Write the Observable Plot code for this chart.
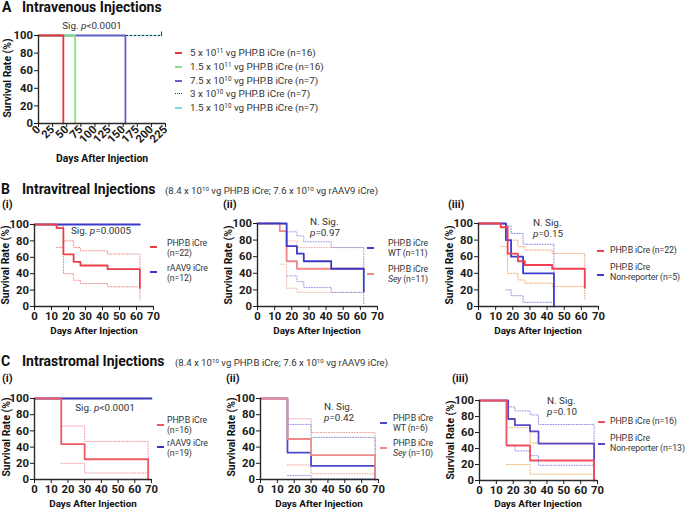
<!DOCTYPE html>
<html><head><meta charset="utf-8">
<script src="https://cdn.jsdelivr.net/npm/d3@7"></script>
<script src="https://cdn.jsdelivr.net/npm/@observablehq/plot@0.6"></script>
<style>
body{margin:0;background:#fff;}
#fig{position:relative;width:685px;height:512px;overflow:hidden;font-family:Roboto,'DejaVu Sans',sans-serif;color:#333;background:#fff;}
#fig svg{overflow:visible;max-width:none;}
.t{position:absolute;white-space:nowrap;line-height:1.08;}
.ttl{font-weight:bold;font-size:14px;color:#111;}
.sub{font-size:9.6px;color:#333;}
.pl{font-weight:bold;font-size:11px;color:#111;}
.axt{font-weight:bold;font-size:10.4px;color:#111;}
.axb{font-weight:bold;font-size:9.9px;color:#111;}
.ann{font-size:9.9px;color:#333;}
.leg{font-size:9.8px;color:#333;}
.legs{font-size:8.8px;letter-spacing:-0.15px;color:#333;}
sup{font-size:65%;vertical-align:0;position:relative;top:-0.45em;line-height:0;}
.sw{position:absolute;width:7px;height:0;}
</style>
</head><body>
<div id="fig"></div>
<script>
// ================= DATA =================
const yTicks = [0, 20, 40, 60, 80, 100];
const kmTicksX = [0, 10, 20, 30, 40, 50, 60, 70];
const aTicksX = [0, 25, 50, 75, 100, 125, 150, 175, 200, 225];

// Panel A – intravenous
const aDays5e11 = [0, 44],   aSurv5e11 = [100, 0];
const aDays15e11 = [0, 65],  aSurv15e11 = [100, 0];
const aDays75e10 = [0, 154], aSurv75e10 = [100, 0];
const aDays3e10 = [0, 218],  aSurv3e10 = [100, 100];
const aDays15e10 = [0, 218], aSurv15e10 = [100, 100];
const aCensorDays = [218];
const aLegend = ["5 x 10<sup>11</sup> vg PHP.B iCre (n=16)", "1.5 x 10<sup>11</sup> vg PHP.B iCre (n=16)",
  "7.5 x 10<sup>10</sup> vg PHP.B iCre (n=7)", "3 x 10<sup>10</sup> vg PHP.B iCre (n=7)", "1.5 x 10<sup>10</sup> vg PHP.B iCre (n=7)"];

// Panel B – intravitreal, PHP.B iCre (n=22) (used in B-i and B-iii)
const bPhpDays = [0, 13, 17, 23, 27, 43, 62];
const bPhpSurv = [100, 95.5, 63.6, 54.5, 50, 45.5, 22.7];
const bPhpCiDays = [13, 17, 23, 27, 43, 62];
const bPhpUpper = [99.3, 80, 72, 68, 64, 41];
const bPhpLower = [72, 40, 32, 28, 24, 8];
// B-i rAAV9 iCre (n=12)
const bAavDays = [0, 62], bAavSurv = [100, 100];
// B-ii WT (n=11)
const bWtDays = [0, 17, 23, 27, 43, 62];
const bWtSurv = [100, 72.7, 63.6, 54.5, 45.5, 18.2];
const bWtCiDays = [17, 23, 27, 43, 62];
const bWtUpper = [90, 85, 78, 71, 44];
const bWtLower = [37, 30, 23, 17, 2];
// B-ii Sey (n=11)
const bSeyDays = [0, 13, 17, 23, 62];
const bSeySurv = [100, 90.9, 54.5, 45.5, 45.5];
const bSeyCiDays = [13, 17, 23, 62];
const bSeyUpper = [99, 79, 71, 71];
const bSeyLower = [51, 22, 17, 17];
// B-iii Non-reporter (n=5)
const bNrDays = [0, 16, 19, 26, 44];
const bNrSurv = [100, 80, 60, 40, 0];
const bNrCiDays = [16, 19, 26, 44];
const bNrUpper = [97, 88, 75, 40];
const bNrLower = [20, 13, 5, 0];

// Panel C – intrastromal, PHP.B iCre (n=16) (used in C-i and C-iii)
const cPhpDays = [0, 16, 30, 68];
const cPhpSurv = [100, 43.75, 25, 0];
const cPhpCiDays = [16, 30, 68];
const cPhpUpper = [66, 47, 0];
const cPhpLower = [20, 8, 0];
// C-i rAAV9 (n=19)
const cAavDays = [0, 70], cAavSurv = [100, 100];
// C-ii WT (n=6)
const cWtDays = [0, 16, 30, 68];
const cWtSurv = [100, 33.3, 16.7, 0];
const cWtCiDays = [16, 30, 68];
const cWtUpper = [68, 52, 0];
const cWtLower = [5, 1, 0];
// C-ii Sey (n=10)
const cSeyDays = [0, 16, 30, 68];
const cSeySurv = [100, 50, 30, 0];
const cSeyCiDays = [16, 30, 68];
const cSeyUpper = [75, 58, 0];
const cSeyLower = [18, 7, 0];
// C-iii Non-reporter (n=13)
const cNrDays = [0, 17, 21, 30, 35, 68];
const cNrSurv = [100, 76.9, 69.2, 61.5, 46.2, 0];
const cNrCiDays = [17, 21, 30, 35, 68];
const cNrUpper = [92, 87, 82, 70, 0];
const cNrLower = [44, 37, 31, 19, 0];

// ================= HELPERS =================
const fig = document.getElementById("fig");
const FONT = "Roboto, 'DejaVu Sans', sans-serif";
const pts = (t, s) => t.map((d, i) => ({t: d, s: s[i]}));
const DOT = "1,1.6";

function km(o) {
  const marks = [];
  for (const s of o.series) {
    marks.push(Plot.line(pts(s.t, s.s), {
      x: "t", y: "s", curve: "step-after", stroke: s.c,
      strokeWidth: s.w ?? 1.8, strokeDasharray: s.dash
    }));
  }
  marks.push(
    Plot.ruleX([0], {stroke: "#2a2a2a", strokeWidth: 1.4}),
    Plot.ruleY([0], {stroke: "#2a2a2a", strokeWidth: 1.4}),
    Plot.axisY({ticks: yTicks, tickSize: 4, tickPadding: 1.5, label: null}),
    Plot.axisX({ticks: o.xTicks, tickSize: 4, tickPadding: o.rot ? 0 : 1.5, tickRotate: o.rot || 0, label: null})
  );
  if (o.extra) marks.push(...o.extra);
  const ml = 40, mr = 10, mt = 10, mb = 45;
  const svg = Plot.plot({
    width: ml + o.fw + mr, height: mt + o.fh + mb,
    marginLeft: ml, marginRight: mr, marginTop: mt, marginBottom: mb,
    x: {domain: o.xd}, y: {domain: [0, 100]},
    style: {fontFamily: FONT, fontSize: "11.3px", fontWeight: "bold", color: "#1a1a1a", background: "transparent", overflow: "visible"},
    marks
  });
  svg.style.position = "absolute";
  svg.style.left = (o.fx - ml) + "px";
  svg.style.top = (o.fy - mt) + "px";
  fig.appendChild(svg);
}

function txt(html, x, y, cls, center, rot) {
  const d = document.createElement("div");
  d.className = "t " + cls;
  d.innerHTML = html;
  d.style.left = x + "px"; d.style.top = y + "px";
  d.style.transform = (center ? "translate(-50%,-50%)" : "translate(0,-50%)") + (rot ? " rotate(-90deg)" : "");
  fig.appendChild(d);
}
function sw(x, y, color, style) {
  const d = document.createElement("div");
  d.className = "sw";
  d.style.left = x + "px"; d.style.top = (y - 1) + "px";
  d.style.borderTop = style || ("2px solid " + color);
  fig.appendChild(d);
}

// ================= PANEL A =================
const cA = {r: "#e8363e", g: "#86e086", b: "#6a5fc8", k: "#222", c: "#7fe0e0"};
km({
  fx: 38, fy: 35, fw: 127, fh: 88, xd: [0, 225], xTicks: aTicksX, rot: -45,
  series: [
    {t: aDays15e10, s: aSurv15e10, c: cA.c, w: 1.6, dash: "2,1.5"},
    {t: aDays3e10, s: aSurv3e10, c: cA.k, w: 1.2, dash: "1,3"},
    {t: aDays75e10, s: aSurv75e10, c: cA.b},
    {t: aDays15e11, s: aSurv15e11, c: cA.g},
    {t: aDays5e11, s: aSurv5e11, c: cA.r}
  ],
  extra: [Plot.ruleX(aCensorDays, {x: d => d, y1: 99, y2: 104, stroke: "#333", strokeWidth: 1})]
});
txt("A", 2, 8, "ttl");
txt("Intravenous Injections", 22, 8, "ttl");
txt("Sig. <i>p</i>&lt;0.0001", 92, 26, "ann", true);
txt("Days After Injection", 102, 159, "axt", true);
txt("Survival Rate (%)", 8, 78, "axt", true, true);
const aCols = [cA.r, cA.g, cA.b, null, cA.c];
const aY = [53, 67, 81, 94, 108];
aLegend.forEach((l, i) => {
  if (aCols[i]) sw(175, aY[i], aCols[i]); else sw(175, aY[i], "#333", "1.5px dotted #333");
  txt(l, 190, aY[i], "leg");
});

// ================= PANEL B =================
txt("B", 1, 190, "ttl");
txt("Intravitreal Injections", 22, 190, "ttl");
txt("(8.4 x 10<sup>10</sup> vg PHP.B iCre; 7.6 x 10<sup>10</sup> vg rAAV9 iCre)", 165, 191, "sub");

// B-i
const cBi = {r: "#e8404a", b: "#3a3acb", rd: "#f08c8c"};
km({
  fx: 34, fy: 224, fw: 119, fh: 82, xd: [0, 70], xTicks: kmTicksX,
  series: [
    {t: bPhpCiDays, s: bPhpUpper, c: cBi.rd, w: 1, dash: DOT},
    {t: bPhpCiDays, s: bPhpLower, c: cBi.rd, w: 1, dash: DOT},
    {t: bAavDays, s: bAavSurv, c: cBi.b},
    {t: bPhpDays, s: bPhpSurv, c: cBi.r}
  ]
});
txt("(i)", 2, 205, "pl");
txt("Sig. <i>p</i>=0.0005", 101, 231, "ann", true);
txt("Days After Injection", 94, 331, "axb", true);
txt("Survival Rate (%)", 6, 265, "axt", true, true);
sw(150, 247, cBi.r); txt("PHP.B iCre<br>(n=22)", 167, 248, "legs");
sw(150, 272, cBi.b); txt("rAAV9 iCre<br>(n=12)", 167, 273, "legs");

// B-ii
const cBii = {b: "#3a3ac4", r: "#f08888", bd: "#9a9ae2", rd: "#f4b4ac"};
km({
  fx: 257, fy: 223, fw: 120, fh: 83, xd: [0, 70], xTicks: kmTicksX,
  series: [
    {t: bSeyCiDays, s: bSeyUpper, c: cBii.rd, w: 1, dash: DOT},
    {t: bSeyCiDays, s: bSeyLower, c: cBii.rd, w: 1, dash: DOT},
    {t: bWtCiDays, s: bWtUpper, c: cBii.bd, w: 1, dash: DOT},
    {t: bWtCiDays, s: bWtLower, c: cBii.bd, w: 1, dash: DOT},
    {t: bSeyDays, s: bSeySurv, c: cBii.r},
    {t: bWtDays, s: bWtSurv, c: cBii.b}
  ]
});
txt("(ii)", 223, 205, "pl");
txt("N. Sig.<br><i>p</i>=0.97", 310, 228, "ann");
txt("Days After Injection", 317, 331, "axb", true);
txt("Survival Rate (%)", 229, 265, "axt", true, true);
sw(367, 248, cBii.b); txt("PHP.B iCre<br>WT (n=11)", 388, 248, "legs");
sw(367, 274, cBii.r); txt("PHP.B iCre<br><i>Sey</i> (n=11)", 388, 274, "legs");

// B-iii
const cBiii = {r: "#f04050", b: "#3c3cd4", rd: "#f2a872", bd: "#8c8ce8"};
km({
  fx: 478, fy: 223, fw: 120, fh: 83, xd: [0, 70], xTicks: kmTicksX,
  series: [
    {t: bPhpCiDays, s: bPhpUpper, c: cBiii.rd, w: 1, dash: DOT},
    {t: bPhpCiDays, s: bPhpLower, c: cBiii.rd, w: 1, dash: DOT},
    {t: bNrCiDays, s: bNrUpper, c: cBiii.bd, w: 1, dash: DOT},
    {t: bNrCiDays, s: bNrLower, c: cBiii.bd, w: 1, dash: DOT},
    {t: bNrDays, s: bNrSurv, c: cBiii.b},
    {t: bPhpDays, s: bPhpSurv, c: cBiii.r}
  ]
});
txt("(iii)", 448, 205, "pl");
txt("N. Sig.<br><i>p</i>=0.15", 533, 229, "ann");
txt("Days After Injection", 538, 331, "axb", true);
txt("Survival Rate (%)", 450, 265, "axt", true, true);
sw(597, 251, cBiii.r); txt("PHP.B iCre (n=22)", 610, 251, "legs");
sw(597, 275, cBiii.b); txt("PHP.B iCre<br>Non-reporter (n=5)", 610, 272, "legs");

// ================= PANEL C =================
txt("C", 1, 362, "ttl");
txt("Intrastromal Injections", 22, 362, "ttl");
txt("(8.4 x 10<sup>10</sup> vg PHP.B iCre; 7.6 x 10<sup>10</sup> vg rAAV9 iCre)", 175, 363, "sub");

// C-i
const cCi = {r: "#ee5a64", b: "#3535b8", rd: "#f29aa0"};
km({
  fx: 34, fy: 398, fw: 117, fh: 81, xd: [0, 70], xTicks: kmTicksX,
  series: [
    {t: cPhpCiDays, s: cPhpUpper, c: cCi.rd, w: 1, dash: DOT},
    {t: cPhpCiDays, s: cPhpLower, c: cCi.rd, w: 1, dash: DOT},
    {t: cAavDays, s: cAavSurv, c: cCi.b},
    {t: cPhpDays, s: cPhpSurv, c: cCi.r}
  ]
});
txt("(i)", 2, 379, "pl");
txt("Sig. <i>p</i>&lt;0.0001", 105, 408, "ann", true);
txt("Days After Injection", 93, 504, "axb", true);
txt("Survival Rate (%)", 7, 437, "axt", true, true);
sw(157, 425, cCi.r); txt("PHP.B iCre<br>(n=16)", 167, 425, "legs");
sw(157, 447, cCi.b); txt("rAAV9 iCre<br>(n=19)", 167, 448, "legs");

// C-ii
const cCii = {b: "#4a4ac8", r: "#f08a8a", bd: "#9090dd", rd: "#f2a4a4"};
km({
  fx: 260, fy: 398, fw: 118, fh: 81, xd: [0, 70], xTicks: kmTicksX,
  series: [
    {t: cSeyCiDays, s: cSeyUpper, c: cCii.rd, w: 1, dash: DOT},
    {t: cSeyCiDays, s: cSeyLower, c: cCii.rd, w: 1, dash: DOT},
    {t: cWtCiDays, s: cWtUpper, c: cCii.bd, w: 1, dash: DOT},
    {t: cWtCiDays, s: cWtLower, c: cCii.bd, w: 1, dash: DOT},
    {t: cWtDays, s: cWtSurv, c: cCii.b},
    {t: cSeyDays, s: cSeySurv, c: cCii.r}
  ]
});
txt("(ii)", 226, 379, "pl");
txt("N. Sig.<br><i>p</i>=0.42", 324, 413, "ann");
txt("Days After Injection", 319, 504, "axb", true);
txt("Survival Rate (%)", 232, 437, "axt", true, true);
sw(380, 423, cCii.b); txt("PHP.B iCre<br>WT (n=6)", 393, 423, "legs");
sw(380, 448, cCii.r); txt("PHP.B iCre<br><i>Sey</i> (n=10)", 393, 448, "legs");

// C-iii
const cCiii = {r: "#ee5060", b: "#5a48c8", rd: "#f2b070", bd: "#9a90e8"};
km({
  fx: 479, fy: 400, fw: 118, fh: 80, xd: [0, 70], xTicks: kmTicksX,
  series: [
    {t: cPhpCiDays, s: cPhpUpper, c: cCiii.rd, w: 1, dash: DOT},
    {t: cPhpCiDays, s: cPhpLower, c: cCiii.rd, w: 1, dash: DOT},
    {t: cNrCiDays, s: cNrUpper, c: cCiii.bd, w: 1, dash: DOT},
    {t: cNrCiDays, s: cNrLower, c: cCiii.bd, w: 1, dash: DOT},
    {t: cNrDays, s: cNrSurv, c: cCiii.b},
    {t: cPhpDays, s: cPhpSurv, c: cCiii.r}
  ]
});
txt("(iii)", 452, 379, "pl");
txt("N. Sig.<br><i>p</i>=0.10", 547, 407, "ann");
txt("Days After Injection", 538, 504, "axb", true);
txt("Survival Rate (%)", 451, 440, "axt", true, true);
sw(598, 422, cCiii.r); txt("PHP.B iCre (n=16)", 610, 422, "legs");
sw(598, 444, cCiii.b); txt("PHP.B iCre<br>Non-reporter (n=13)", 610, 443, "legs");
</script>
</body></html>
